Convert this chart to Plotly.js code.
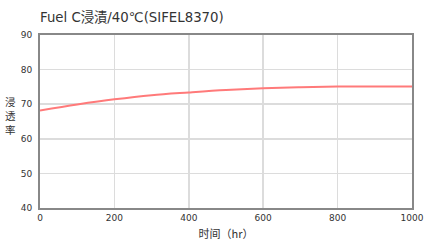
<!DOCTYPE html>
<html><head><meta charset="utf-8">
<script src="https://cdn.plot.ly/plotly-3.0.1.min.js"></script>
<style>html,body{margin:0;padding:0;background:#fff}#c{width:430px;height:252px}</style>
</head><body><div id="c"></div>
<script>
const hours = [0, 100, 200, 300, 400, 500, 600, 700, 800, 900, 1000];
const permeation = [68.2, 69.9, 71.4, 72.6, 73.4, 74.1, 74.6, 74.9, 75.1, 75.1, 75.1];
const xTicks = [0, 200, 400, 600, 800, 1000];
const yTicks = [40, 50, 60, 70, 80, 90];
const titleText = 'Fuel C浸漬/40℃(SIFEL8370)';
const xTitle = '时间（hr）';
const yTitleChars = ['浸', '透', '率'];

const fontFam = 'Noto Sans CJK SC, DejaVu Sans, sans-serif';
const titleFam = 'DejaVu Sans, Noto Sans CJK SC, sans-serif';
const yAnn = yTitleChars.map((ch, i) => ({
  text: ch, xref: 'paper', yref: 'paper', x: -0.08, y: 0.615 - i * 0.08,
  xanchor: 'center', yanchor: 'middle', showarrow: false, borderpad: 0,
  font: {size: 10.5, family: fontFam, color: '#333'}
}));
Plotly.newPlot('c', [{
  x: hours, y: permeation, type: 'scatter', mode: 'lines',
  line: {color: '#ff7a7a', width: 2, shape: 'spline'}, hoverinfo: 'none'
}], {
  width: 430, height: 252,
  margin: {l: 40, r: 17.5, t: 35, b: 44.3},
  paper_bgcolor: '#fff', plot_bgcolor: '#fff',
  font: {family: fontFam, size: 10, color: '#333'},
  showlegend: false,
  title: {text: titleText, xref: 'paper', x: 0, xanchor: 'left', y: 0.933, yanchor: 'middle',
          font: {family: titleFam, size: 13.3, color: '#333'}},
  xaxis: {range: [0, 1000], tickvals: xTicks, ticktext: xTicks.map(String),
          showgrid: true, gridcolor: '#dcdcdc', gridwidth: 1.5,
          showline: true, linecolor: '#888', linewidth: 2, mirror: true,
          ticks: '', zeroline: false, tickfont: {size: 9, family: 'DejaVu Sans, sans-serif', color: '#333'},
          title: {text: xTitle, standoff: 9, font: {size: 11, family: fontFam, color: '#333'}}},
  yaxis: {range: [40, 90], tickvals: yTicks, ticktext: yTicks.map(String),
          showgrid: true, gridcolor: '#dcdcdc', gridwidth: 1.5,
          showline: true, linecolor: '#888', linewidth: 2, mirror: true,
          ticks: '', ticklabelstandoff: 4, zeroline: false,
          tickfont: {size: 9, family: 'DejaVu Sans, sans-serif', color: '#333'}},
  annotations: yAnn
}, {staticPlot: true});
</script></body></html>
